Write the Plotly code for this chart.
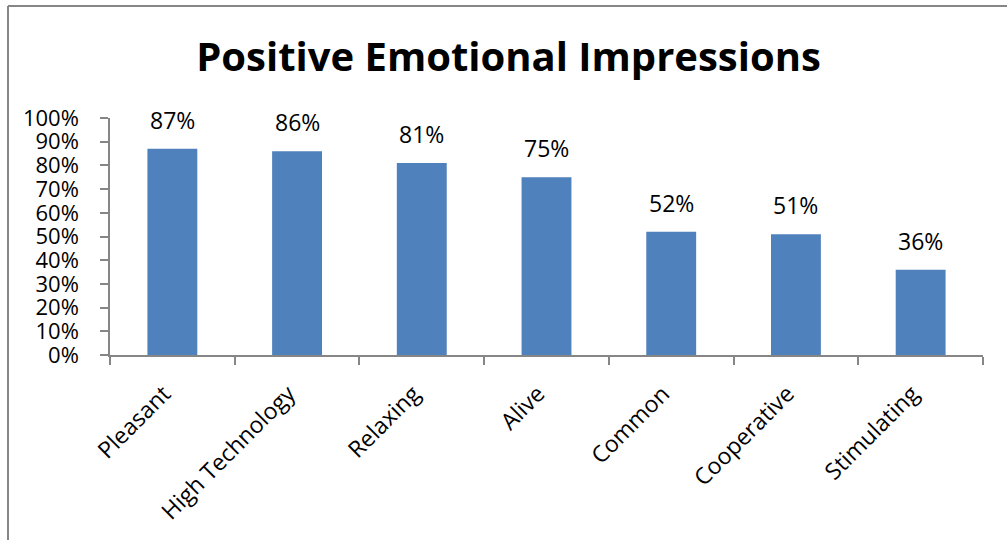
import plotly.graph_objects as go

categories = ["Pleasant", "High Technology", "Relaxing", "Alive", "Common", "Cooperative", "Stimulating"]
shares = [0.87, 0.86, 0.81, 0.75, 0.52, 0.51, 0.36]
y_ticks = [i / 10 for i in range(11)]
y_tick_labels = [f"{i * 10}%" for i in range(11)]

FONT = "Open Sans"
BAR_COLOR = "#4F81BD"
AXIS_COLOR = "#868686"

W, H = 1007, 540
M_L, M_R, M_T, M_B = 110, 24, 118, 185
PW, PH = W - M_L - M_R, H - M_T - M_B


def px_to_paper(px, py):
    return (px - M_L) / PW, (H - M_B - py) / PH


fig = go.Figure()
fig.add_trace(go.Bar(
    x=categories,
    y=shares,
    marker=dict(color=BAR_COLOR, line=dict(width=0)),
    hoverinfo="skip",
))

# value labels above each bar
for cat, val in zip(categories, shares):
    fig.add_annotation(
        x=cat, y=val, text=f"{round(val * 100)}%",
        showarrow=False, yanchor="bottom", yshift=11,
        font=dict(family=FONT, size=23, color="#000000"),
    )

# outer chart frame (left and top edges)
x0, y0 = px_to_paper(8, 6)
x1, _ = px_to_paper(1010, 6)
_, y_bot = px_to_paper(8, 545)
fig.add_shape(type="line", xref="paper", yref="paper", x0=x0, y0=y0, x1=x0, y1=y_bot,
              line=dict(color=AXIS_COLOR, width=2))
fig.add_shape(type="line", xref="paper", yref="paper", x0=x0, y0=y0, x1=x1, y1=y0,
              line=dict(color=AXIS_COLOR, width=2))

# slanted category labels end a little before the category centre
x_tick_text = [c + "\u00a0\u00a0" for c in categories]

fig.update_layout(
    width=W, height=H,
    margin=dict(l=M_L, r=M_R, t=M_T, b=M_B),
    paper_bgcolor="#FFFFFF", plot_bgcolor="#FFFFFF",
    bargap=0.6,
    showlegend=False,
    title=dict(
        text="<b>Positive Emotional Impressions</b>",
        font=dict(family=FONT, size=40, color="#000000"),
        xref="container", x=0.505, xanchor="center",
        yref="container", y=1 - 57 / H, yanchor="middle",
    ),
    xaxis=dict(
        type="category",
        tickson="boundaries",
        tickvals=categories, ticktext=x_tick_text,
        ticks="outside", ticklen=8, tickcolor=AXIS_COLOR, tickwidth=1.5,
        showline=True, linecolor=AXIS_COLOR, linewidth=1.5,
        tickangle=-45,
        tickfont=dict(family=FONT, size=23, color="#000000"),
        ticklabelstandoff=6,
        showgrid=False,
        fixedrange=True,
    ),
    yaxis=dict(
        range=[0, 1],
        tickvals=y_ticks, ticktext=y_tick_labels,
        ticks="outside", ticklen=8, tickcolor=AXIS_COLOR, tickwidth=1.5,
        showline=True, linecolor=AXIS_COLOR, linewidth=1.5,
        tickfont=dict(family=FONT, size=22, color="#000000"),
        ticklabelstandoff=17,
        showgrid=False, zeroline=False,
        fixedrange=True,
    ),
)

fig.write_html("out.html", config={"displayModeBar": False})
